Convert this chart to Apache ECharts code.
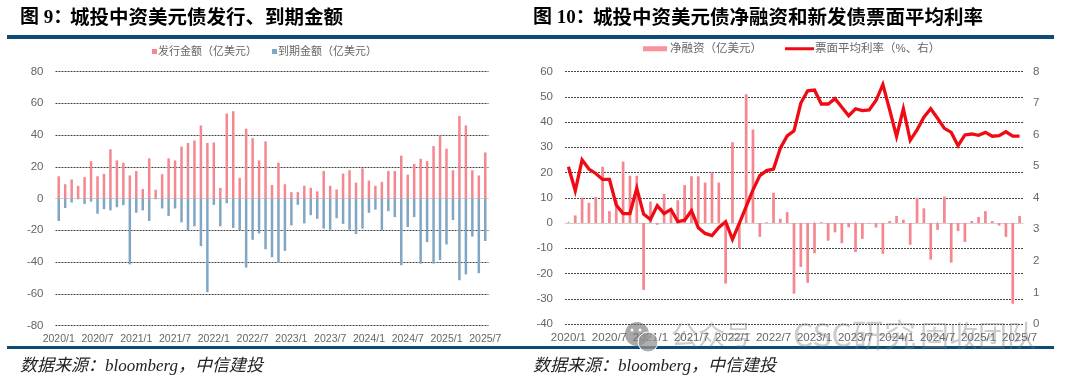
<!DOCTYPE html>
<html>
<head>
<meta charset="utf-8">
<title>城投中资美元债</title>
<style>
html, body { margin: 0; padding: 0; background: #fff; }
#main { width: 1068px; height: 380px; }
</style>
<script src="https://cdn.jsdelivr.net/npm/echarts@6/dist/echarts.min.js"></script>
</head>
<body>
<div id="main"></div>
<script>
var months = [
    '2020/1', '2020/2', '2020/3', '2020/4', '2020/5', '2020/6', '2020/7', '2020/8', '2020/9', '2020/10', '2020/11', '2020/12',
    '2021/1', '2021/2', '2021/3', '2021/4', '2021/5', '2021/6', '2021/7', '2021/8', '2021/9', '2021/10', '2021/11', '2021/12',
    '2022/1', '2022/2', '2022/3', '2022/4', '2022/5', '2022/6', '2022/7', '2022/8', '2022/9', '2022/10', '2022/11', '2022/12',
    '2023/1', '2023/2', '2023/3', '2023/4', '2023/5', '2023/6', '2023/7', '2023/8', '2023/9', '2023/10', '2023/11', '2023/12',
    '2024/1', '2024/2', '2024/3', '2024/4', '2024/5', '2024/6', '2024/7', '2024/8', '2024/9', '2024/10', '2024/11', '2024/12',
    '2025/1', '2025/2', '2025/3', '2025/4', '2025/5', '2025/6', '2025/7'
];
var issue = [
    14, 9, 12, 8, 13.5, 23.5, 14, 15.5, 31, 24, 22.5, 14.5,
    17.3, 6, 25.3, 5.5, 15.3, 25.3, 24, 32.7, 35, 36.5, 46, 35,
    35.3, 6.7, 53.5, 55, 13, 44, 38, 24, 36, 8.5, 22.5, 9,
    4, 4, 8, 6.7, 4.5, 17.3, 8, 5.7, 15.7, 17.8, 10, 19,
    11.3, 8, 10.5, 17.3, 17.3, 27, 15, 21.8, 25, 23.5, 33, 39.6,
    31.4, 17.8, 52, 46, 17.8, 14.5, 29
];
var mature = [
    -14.2, -6, -2.5, -0.5, -3.4, -2, -9.6, -6.7, -7.5, -5.5, -4.2, -41.5,
    -9, -7.5, -14.2, -0.5, -6.3, -11, -6.3, -15, -20, -17.5, -30, -59,
    -4, -17.5, -3, -18.6, -20, -43.5, -26, -22, -32, -37, -40.5, -33,
    -17, -4, -15.7, -10.5, -12.8, -19, -19.7, -12.4, -16, -19.7, -22.4, -19,
    -9, -7, -20, -8, -11.7, -42, -18, -11.7, -41, -27.5, -41, -38.8,
    -29, -13.6, -51.5, -47.8, -24, -47, -26.8
];
var netFinance = [
    0.2, 3, 10, 8, 10.3, 22.3, 4.7, 9, 24.3, 18.7, 18.7, -26.5,
    8.5, -0.7, 11.5, 5, 9, 15, 18.5, 18.5, 16, 20, 16, -24,
    32, -10, 51, 37, -5.5, 0.3, 12, 1.7, 4.3, -28, -17.4, -23.7,
    -12, 0.3, -7, -3.7, -8, -1.7, -11.5, -6.3, -0.2, -1.8, -12.2, 0.8,
    2.8, 1.3, -8.6, 10, 5.8, -14.5, -2.7, 10.5, -15.7, -3.2, -7.5, 0.8,
    2.4, 4.7, 0.8, -1, -5.5, -32, 2.8
];
var couponRate = [
    4.98, 4.22, 5.2, 4.91, 4.77, 4.58, 4.58, 3.77, 3.5, 3.5, 4.3, 3.48,
    3.31, 3.75, 3.5, 3.63, 3.24, 3.29, 3.59, 3.05, 2.87, 2.8, 3.06, 3.24,
    2.68, 3.19, 3.72, 4.25, 4.7, 4.86, 4.91, 5.57, 5.96, 6.12, 7.0, 7.39,
    7.41, 6.97, 6.97, 7.14, 6.87, 6.6, 6.82, 6.76, 6.78, 7.08, 7.59, 6.78,
    5.94, 6.82, 5.82, 6.15, 6.55, 6.82, 6.52, 6.2, 6.07, 5.65, 5.99, 6.02,
    5.98, 6.07, 5.95, 5.97, 6.09, 5.95, 5.95
];

var sans = '"Liberation Sans", "Noto Sans CJK SC", sans-serif';
var serif = '"Liberation Serif", "Noto Sans CJK SC", serif';
var grey = '#666666';
var pink = '#F4878F';
var blue = '#80A6C4';
var red = '#F00A14';
var navy = '#0F4C75';
var gridDark = '#444444';

// the line at zero is the light one, everything else dark
var gridColors = [gridDark, gridDark, gridDark, gridDark, 'rgba(0,0,0,0)', gridDark, gridDark, gridDark, gridDark, gridDark, gridDark];

function legendItem(name, left, top, w, h, color, size, gap) {
    return {
        left: left, top: top, padding: 0,
        itemWidth: w, itemHeight: h,
        icon: 'rect',
        data: [name],
        textStyle: { color: grey, fontSize: size, fontFamily: sans, padding: [0, 0, 0, gap] },
        itemStyle: { color: color, borderWidth: 0 }
    };
}

function xLabelAxis(gridIndex, size) {
    return {
        type: 'category', gridIndex: gridIndex, data: months,
        axisLine: { show: false, onZero: false },
        axisTick: { show: false },
        axisLabel: { interval: 5, margin: 8, color: grey, fontSize: size, fontFamily: sans, showMinLabel: true, showMaxLabel: true }
    };
}

function xZeroAxis(gridIndex) {
    return {
        type: 'category', gridIndex: gridIndex, data: months,
        axisLine: { show: true, onZero: true, lineStyle: { color: '#d0d0d0', width: 1 } },
        axisTick: { show: true, alignWithLabel: true, interval: 5, length: 2, lineStyle: { color: '#d0d0d0' } },
        axisLabel: { show: false }
    };
}

function yAxisLeft(gridIndex, min, max, step) {
    return {
        type: 'value', gridIndex: gridIndex, min: min, max: max, interval: step,
        axisLine: { show: false },
        axisTick: { show: false },
        axisLabel: { margin: 12, color: grey, fontSize: 11.5, fontFamily: sans },
        splitLine: { show: true, lineStyle: { color: gridColors, type: [2, 1], width: 1 } }
    };
}

var titles = [
    { type: 'text', x: 20, y: 9, style: { text: '图 9：', font: 'bold 19px ' + serif, fill: '#000' } },
    { type: 'text', x: 70, y: 9, style: { text: '城投中资美元债发行、到期金额', font: 'bold 19.5px ' + serif, fill: '#000' } },
    { type: 'text', x: 533, y: 9, style: { text: '图 10：', font: 'bold 19px ' + serif, fill: '#000' } },
    { type: 'text', x: 593, y: 9, style: { text: '城投中资美元债净融资和新发债票面平均利率', font: 'bold 19.5px ' + serif, fill: '#000' } }
];
var rules = [
    { type: 'rect', shape: { x: 7, y: 35, width: 1047, height: 4 }, style: { fill: navy } },
    { type: 'rect', shape: { x: 7, y: 346, width: 1047, height: 3 }, style: { fill: navy } }
];
var sources = [
    { type: 'text', x: 20, y: 358, style: { text: '数据来源：bloomberg，中信建投', font: 'italic 17px ' + serif, fill: '#222' } },
    { type: 'text', x: 533, y: 358, style: { text: '数据来源：bloomberg，中信建投', font: 'italic 17px ' + serif, fill: '#222' } }
];
// watermark across the lower right chart
var wm = 'rgba(120,120,120,0.38)';
var watermark = [
    { type: 'circle', z: 20, shape: { cx: 637, cy: 334, r: 12 }, style: { fill: 'rgba(110,110,110,0.6)' } },
    { type: 'circle', z: 21, shape: { cx: 648, cy: 342, r: 10 }, style: { fill: 'rgba(150,150,150,0.75)', stroke: '#fff', lineWidth: 1 } },
    { type: 'circle', z: 22, shape: { cx: 632, cy: 330, r: 1.5 }, style: { fill: '#fff' } },
    { type: 'circle', z: 22, shape: { cx: 640, cy: 330, r: 1.5 }, style: { fill: '#fff' } },
    { type: 'text', z: 20, x: 671, y: 321, style: { text: '公众号', font: '27px "Noto Sans CJK SC"', fill: wm } },
    { type: 'text', z: 20, x: 793, y: 319, style: { text: 'CSC研究', font: '32px "Noto Sans CJK SC"', fill: wm } },
    { type: 'text', z: 20, x: 920, y: 321, style: { text: '固收团队', font: '29px "Noto Sans CJK SC"', fill: wm } }
];

var chart = echarts.init(document.getElementById('main'));

chart.setOption({
    animation: false,
    backgroundColor: '#fff',
    legend: [
        legendItem('发行金额（亿美元）', 152, 46, 5, 5, pink, 11, -4),
        legendItem('到期金额（亿美元）', 272, 46, 5, 5, blue, 11, -4),
        legendItem('净融资（亿美元）', 643, 43, 24, 5, '#F9929B', 11.5, -2),
        legendItem('票面平均利率（%、右）', 785, 43, 29, 3, red, 11.5, -4)
    ],
    grid: [
        { left: 55.5, top: 71.5, width: 433, height: 254 },
        { left: 565, top: 71.5, width: 458, height: 252.5 }
    ],
    xAxis: [xLabelAxis(0, 10.5), xZeroAxis(0), xLabelAxis(1, 11.5), xZeroAxis(1)],
    yAxis: [
        yAxisLeft(0, -80, 80, 20),
        yAxisLeft(1, -40, 60, 10),
        {
            type: 'value', gridIndex: 1, position: 'right', min: 0, max: 8, interval: 1,
            axisLine: { show: false },
            axisTick: { show: false },
            axisLabel: { margin: 10, color: grey, fontSize: 11.5, fontFamily: sans },
            splitLine: { show: false }
        }
    ],
    series: [
        { name: '发行金额（亿美元）', type: 'bar', xAxisIndex: 0, yAxisIndex: 0, data: issue, barWidth: 2.5, barGap: '-100%', itemStyle: { color: pink } },
        { name: '到期金额（亿美元）', type: 'bar', xAxisIndex: 0, yAxisIndex: 0, data: mature, barWidth: 2.5, barGap: '-100%', itemStyle: { color: blue } },
        { name: '净融资（亿美元）', type: 'bar', xAxisIndex: 2, yAxisIndex: 1, data: netFinance, barWidth: 2.7, itemStyle: { color: pink } },
        { name: '票面平均利率（%、右）', type: 'line', xAxisIndex: 2, yAxisIndex: 2, data: couponRate, symbol: 'none', z: 5, lineStyle: { color: red, width: 3.3, join: 'miter' } }
    ],
    graphic: titles.concat(rules, sources, watermark)
});
</script>
</body>
</html>
